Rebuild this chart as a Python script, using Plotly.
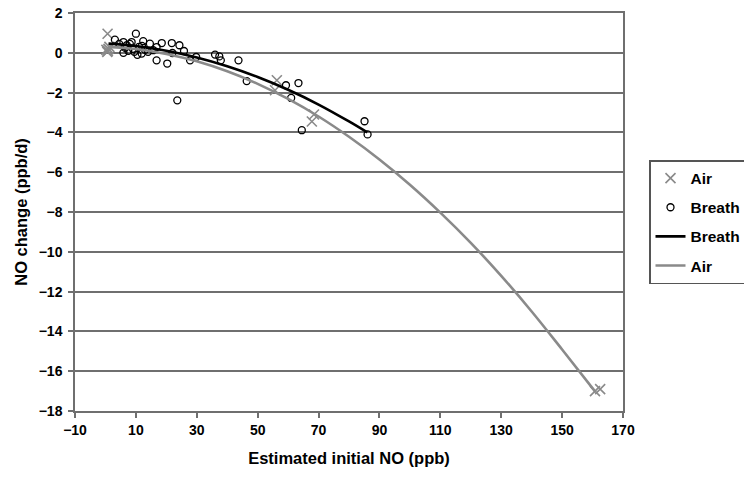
import plotly.graph_objects as go

# Scatter data
air_x = [0.7, 0.3, 0.6, 1.0, 1.3, 0.8, 56.3, 55.7, 68.5, 67.8, 160.8, 162.5]
air_y = [0.96, 0.15, 0.05, 0.2, 0.3, 0.1, -1.38, -1.88, -3.1, -3.45, -17.0, -16.9]

breath_x = [3.1, 4.5, 5.9, 7.0, 8.6, 10.0, 9.0, 11.0, 12.4, 14.6, 16.8, 18.5, 15.7, 11.9,
            5.9, 7.5, 9.5, 10.5, 13.0, 14.0, 8.0, 6.5, 12.0, 16.8, 20.3, 21.8, 24.3, 25.8,
            22.0, 23.6, 27.8, 29.8, 36.0, 37.4, 37.9, 43.7, 46.4, 59.3, 63.4, 61.0, 64.5,
            85.1, 86.1]
breath_y = [0.66, 0.45, 0.54, 0.38, 0.54, 0.96, 0.2, 0.3, 0.59, 0.46, 0.29, 0.49, 0.13, -0.04,
            0.0, 0.1, 0.05, -0.1, 0.15, 0.05, 0.45, 0.25, 0.35, -0.38, -0.54, 0.49, 0.38, 0.09,
            -0.01, -2.39, -0.38, -0.21, -0.09, -0.18, -0.38, -0.38, -1.42, -1.63, -1.52, -2.27, -3.89,
            -3.44, -4.1]

# Trend curves
breath_fit_x = [1, 10, 20, 30, 40, 50, 60, 70, 80, 86]
breath_fit_y = [0.46, 0.34, 0.10, -0.24, -0.68, -1.22, -1.86, -2.60, -3.45, -4.0]

air_fit_x = [0.7, 10, 20, 30, 40, 50, 60, 70, 80, 90, 100, 110, 120, 130, 140, 150, 161]
air_fit_y = [0.30, 0.19, -0.06, -0.43, -0.93, -1.56, -2.32, -3.20, -4.22, -5.36, -6.63,
             -8.03, -9.55, -11.21, -13.0, -14.91, -17.05]

# Tick values / labels
x_ticks = [-10, 10, 30, 50, 70, 90, 110, 130, 150, 170]
y_ticks = [2, 0, -2, -4, -6, -8, -10, -12, -14, -16, -18]


def lab(v):
    s = str(abs(v))
    return "<b>" + ("\u2212" + s if v < 0 else s) + "</b>"


GRAY = "#8a8a8a"
AXIS = "#6f6f6f"
FONT = "Liberation Sans"
W, H = 744, 483  # page body adds an 8px offset in the 752x491 window

fig = go.Figure()
fig.add_trace(go.Scatter(x=air_x, y=air_y, mode="markers", name="<b>Air</b>", legendgroup="a",
                         marker=dict(symbol="x-thin", size=10, line=dict(color=GRAY, width=1.6), color=GRAY)))
fig.add_trace(go.Scatter(x=breath_x, y=breath_y, mode="markers", name="<b>Breath</b>", legendgroup="b",
                         marker=dict(symbol="circle-open", size=7, color="black", line=dict(width=1.3))))
fig.add_trace(go.Scatter(x=breath_fit_x, y=breath_fit_y, mode="lines", name="<b>Breath</b>", legendgroup="c",
                         line=dict(color="black", width=2.6, shape="spline")))
fig.add_trace(go.Scatter(x=air_fit_x, y=air_fit_y, mode="lines", name="<b>Air</b>", legendgroup="d",
                         line=dict(color=GRAY, width=2.6, shape="spline")))

fig.update_layout(
    width=W, height=H,
    margin=dict(l=67, r=129, t=5, b=80),
    plot_bgcolor="white", paper_bgcolor="white",
    font=dict(family=FONT, size=14, color="black"),
    legend=dict(xref="container", yref="container", x=641 / W, y=1 - 152 / H,
                xanchor="left", yanchor="top", itemwidth=30,
                bordercolor="#555555", borderwidth=1.5, tracegroupgap=6,
                font=dict(family=FONT, size=15.5, color="black")),
    xaxis=dict(range=[-10, 170], tickmode="array", tickvals=x_ticks,
               ticktext=[lab(v) for v in x_ticks], showgrid=False, zeroline=False,
               showline=True, linecolor=AXIS, linewidth=1.5, mirror=True,
               ticks="outside", ticklen=5, tickcolor=AXIS, tickwidth=1.5,
               ticklabeloverflow="allow", automargin=False,
               tickfont=dict(family=FONT, size=14, color="black", weight="bold"),
               title=dict(text="<b>Estimated initial NO (ppb)</b>", standoff=16,
                          font=dict(family=FONT, size=16.5, color="black"))),
    yaxis=dict(range=[-18, 2], tickmode="array", tickvals=y_ticks,
               ticktext=[lab(v) for v in y_ticks], showgrid=True, gridcolor=AXIS, gridwidth=1.5,
               zeroline=False, showline=True, linecolor=AXIS, linewidth=1.5, mirror=True,
               ticks="outside", ticklen=5, tickcolor=AXIS, tickwidth=1.5,
               ticklabelstandoff=3, ticklabeloverflow="allow", automargin=False,
               tickfont=dict(family=FONT, size=14, color="black", weight="bold"),
               title=dict(text="<b>NO change (ppb/d)</b>", standoff=7,
                          font=dict(family=FONT, size=16.5, color="black"))),
)

fig.write_html("out.html")
